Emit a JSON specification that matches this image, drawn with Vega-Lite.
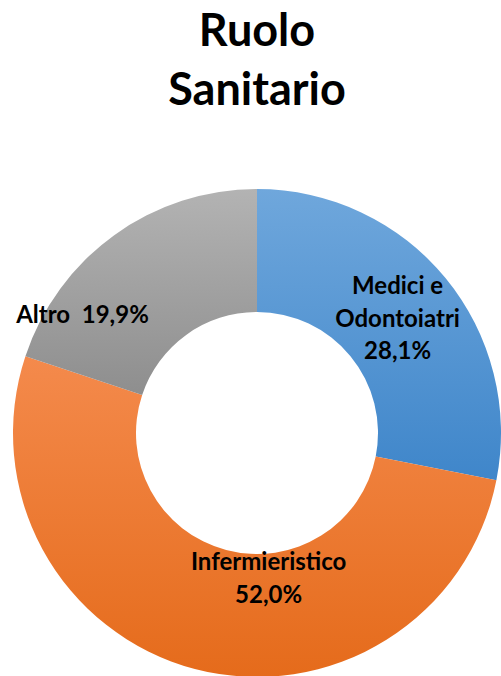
{
  "$schema": "https://vega.github.io/schema/vega-lite/v6.json",
  "width": 488,
  "height": 488,
  "autosize": "none",
  "padding": {"left": 13, "top": 189, "right": 0, "bottom": 0},
  "background": "white",
  "title": {
    "text": ["Ruolo", "Sanitario"],
    "font": "Lato",
    "fontSize": 45,
    "fontWeight": "bold",
    "color": "black",
    "lineHeight": 59,
    "anchor": "middle",
    "baseline": "bottom",
    "offset": 30,
    "frame": "group"
  },
  "data": {
    "values": [
      {"role": "Medici e Odontoiatri", "value": 28.1, "label": "Medici e\nOdontoiatri\n28,1%"},
      {"role": "Infermieristico", "value": 52.0, "label": "Infermieristico\n52,0%"},
      {"role": "Altro", "value": 19.9, "label": "Altro\u00a0 19,9%"}
    ]
  },
  "encoding": {
    "theta": {"field": "value", "type": "quantitative", "stack": true},
    "order": {"field": "label", "sort": "descending"}
  },
  "layer": [
    {
      "mark": {"type": "arc", "innerRadius": 121, "outerRadius": 244},
      "encoding": {
        "fill": {
          "condition": [
            {"test": "datum.role === 'Medici e Odontoiatri'", "value": {"gradient": "linear", "x1": 0, "y1": 0, "x2": 0, "y2": 1, "stops": [{"offset": 0, "color": "#6fa7dc"}, {"offset": 1, "color": "#3f86ca"}]}},
            {"test": "datum.role === 'Infermieristico'", "value": {"gradient": "linear", "x1": 0, "y1": 0, "x2": 0, "y2": 1, "stops": [{"offset": 0, "color": "#f48a4c"}, {"offset": 1, "color": "#e56b1b"}]}}
          ],
          "value": {"gradient": "linear", "x1": 0, "y1": 0, "x2": 0, "y2": 1, "stops": [{"offset": 0, "color": "#b3b3b3"}, {"offset": 1, "color": "#8e8e8e"}]}
        }
      }
    },
    {
      "mark": {"type": "text", "radius": 182, "font": "Lato", "fontSize": 24, "fontWeight": "bold", "color": "black", "lineBreak": "\n", "lineHeight": 32.5, "baseline": "middle", "align": "center", "dx": 0, "dy": -30},
      "encoding": {
        "text": {"condition": {"test": "datum.role === 'Medici e Odontoiatri'", "field": "label"}, "value": ""}
      }
    },
    {
      "mark": {"type": "text", "radius": 182, "font": "Lato", "fontSize": 24, "fontWeight": "bold", "color": "black", "lineBreak": "\n", "lineHeight": 33, "baseline": "middle", "align": "center", "dx": 58, "dy": -46},
      "encoding": {
        "text": {"condition": {"test": "datum.role === 'Infermieristico'", "field": "label"}, "value": ""}
      }
    },
    {
      "mark": {"type": "text", "radius": 182, "font": "Lato", "fontSize": 24, "fontWeight": "bold", "color": "black", "baseline": "middle", "align": "center", "dx": -68, "dy": 31},
      "encoding": {
        "text": {"condition": {"test": "datum.role === 'Altro'", "field": "label"}, "value": ""}
      }
    }
  ],
  "config": {"view": {"stroke": null}}
}
